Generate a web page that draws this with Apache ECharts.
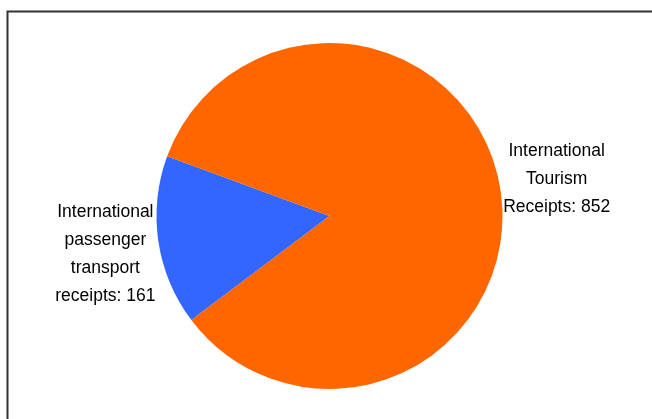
<!DOCTYPE html>
<html>
<head>
<meta charset="utf-8">
<script src="https://cdn.jsdelivr.net/npm/echarts@6/dist/echarts.min.js"></script>
<style>
html,body{margin:0;padding:0;background:#fff;}
#chart{width:652px;height:419px;}
</style>
</head>
<body>
<div id="chart"></div>
<script>
const categories = ["International passenger transport receipts", "International Tourism Receipts"];
const labelTexts = ["International\npassenger\ntransport\nreceipts", "International\nTourism\nReceipts"];
const values = [161, 852];
const colors = ["#3366FF", "#FF6600"];

const chart = echarts.init(document.getElementById('chart'));
const fontFamily = '"Liberation Sans", Arial, sans-serif';
chart.setOption({
  animation: false,
  backgroundColor: '#ffffff',
  graphic: [{
    type: 'rect',
    left: 5, top: 9,
    shape: { width: 700, height: 500 },
    style: { fill: 'none', stroke: '#333333', lineWidth: 2 },
    silent: true
  }],
  series: [{
    type: 'pie',
    center: [329.5, 216],
    radius: 173,
    startAngle: 217,
    clockwise: true,
    avoidLabelOverlap: false,
    data: categories.map((c, i) => ({
      name: c,
      value: values[i],
      itemStyle: { color: colors[i] },
      label: { formatter: labelTexts[i] + ': ' + values[i] }
    })),
    label: {
      show: true,
      position: 'outside',
      color: '#000',
      fontFamily: fontFamily,
      fontSize: 17.5,
      lineHeight: 28
    },
    labelLine: { show: false, length: 0, length2: 0 },
    labelLayout: function (p) {
      if (p.dataIndex === 0) {
        return { align: 'center', dx: -48, dy: 13 };
      }
      return { align: 'center', dx: 51, dy: -12 };
    }
  }]
});
</script>
</body>
</html>
